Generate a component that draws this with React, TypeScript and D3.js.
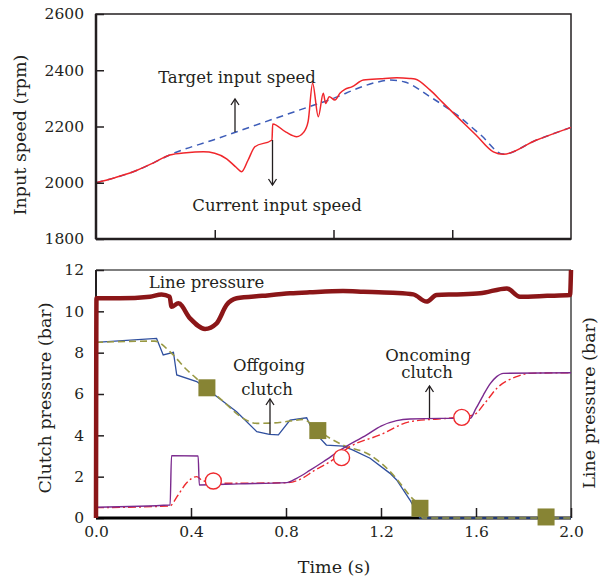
import React, { useRef, useEffect } from 'react';
import * as d3 from 'd3';

// ---- top panel: input speed (rpm) ----
const targetT = [0, 0.08, 0.157, 0.24, 0.311, 0.5, 0.7, 0.9, 1.0, 1.1, 1.18, 1.24, 1.3, 1.406, 1.52, 1.62, 1.715, 1.85, 2.0];
const targetSpeed = [2000, 2018, 2039, 2070, 2099, 2154, 2213, 2271, 2300, 2335, 2357, 2365, 2358, 2306, 2241, 2170, 2102, 2150, 2197];

const currentT = [0, 0.08, 0.157, 0.24, 0.311, 0.38, 0.452, 0.5, 0.55, 0.59, 0.613, 0.64, 0.669, 0.741, 0.744, 0.8, 0.845, 0.875, 0.893, 0.912, 0.936, 0.957, 0.967, 0.982, 1.006, 1.027, 1.048, 1.077, 1.126, 1.2, 1.266, 1.32, 1.343, 1.406, 1.46, 1.519, 1.6, 1.673, 1.715, 1.85, 2.0];
const currentSpeed = [2000, 2018, 2039, 2070, 2099, 2107, 2110, 2105, 2085, 2055, 2039, 2080, 2128, 2152, 2209, 2180, 2164, 2180, 2217, 2354, 2235, 2318, 2282, 2306, 2294, 2318, 2332, 2341, 2365, 2370, 2373, 2371, 2369, 2330, 2285, 2236, 2170, 2110, 2101, 2150, 2197];

const speedTicks = [1800, 2000, 2200, 2400, 2600];
const topTimeTicks = [0.5, 1.0, 1.5];

// ---- bottom panel: pressures (bar) ----
const lineT = [0, 0.002, 0.1, 0.227, 0.276, 0.31, 0.318, 0.347, 0.396, 0.459, 0.508, 0.55, 0.592, 0.7, 0.817, 0.9, 1.04, 1.126, 1.25, 1.336, 1.392, 1.434, 1.52, 1.617, 1.73, 1.785, 1.9, 1.996, 2.0];
const linePressure = [0, 10.63, 10.63, 10.71, 10.82, 10.71, 10.22, 10.39, 9.66, 9.15, 9.42, 10.31, 10.63, 10.75, 10.87, 10.92, 10.98, 10.95, 10.9, 10.82, 10.47, 10.79, 10.82, 10.87, 11.11, 10.71, 10.75, 10.79, 12];

const offActT = [0, 0.255, 0.283, 0.326, 0.34, 0.424, 0.5, 0.592, 0.677, 0.73, 0.768, 0.817, 0.887, 0.901, 0.94, 0.97, 1.04, 1.08, 1.154, 1.238, 1.266, 1.322, 1.364, 2.0];
const offActP = [8.5, 8.69, 7.89, 8.02, 6.92, 6.6, 5.95, 5.14, 4.18, 4.05, 4.02, 4.74, 4.85, 4.5, 3.9, 3.53, 3.48, 3.3, 2.89, 2.16, 1.84, 0.87, 0.0, 0.0];

const offTgtT = [0, 0.248, 0.311, 0.38, 0.438, 0.53, 0.62, 0.677, 0.75, 0.817, 0.873, 0.92, 0.985, 1.04, 1.154, 1.252, 1.322, 1.364, 1.375, 2.0];
const offTgtP = [8.5, 8.56, 8.05, 7.2, 6.6, 5.7, 4.82, 4.58, 4.6, 4.69, 4.77, 4.4, 3.86, 3.53, 3.05, 2.08, 1.06, 0.47, 0, 0];

const onActT = [0, 0.312, 0.318, 0.43, 0.435, 0.6, 0.803, 0.845, 0.9, 0.957, 1.04, 1.14, 1.2, 1.266, 1.322, 1.45, 1.575, 1.6, 1.631, 1.66, 1.687, 1.715, 2.0];
const onActP = [0.52, 0.63, 3.02, 3.0, 1.6, 1.65, 1.71, 1.92, 2.3, 2.72, 3.37, 4.02, 4.45, 4.71, 4.79, 4.82, 4.82, 5.3, 5.95, 6.5, 6.84, 7.0, 7.03];

const onTgtT = [0, 0.31, 0.345, 0.38, 0.424, 0.45, 0.564, 0.803, 0.859, 0.92, 0.985, 1.069, 1.196, 1.322, 1.505, 1.589, 1.64, 1.687, 1.771, 1.827, 2.0];
const onTgtP = [0.5, 0.58, 1.1, 1.68, 2.0, 1.8, 1.68, 1.71, 1.87, 2.3, 2.72, 3.45, 4.02, 4.66, 4.85, 4.98, 5.6, 6.27, 6.84, 7.0, 7.03];

const squareT = [0.467, 0.934, 1.364, 1.895];
const squareP = [6.3, 4.23, 0.47, 0.05];
const circleT = [0.494, 1.034, 1.54];
const circleP = [1.79, 2.92, 4.87];

const pressureTicks = [0, 2, 4, 6, 8, 10, 12];
const timeTicks = [0, 0.4, 0.8, 1.2, 1.6, 2.0];

const FONT = '"DejaVu Serif", serif';
const INK = '#231f20';

const zip = (a: number[], b: number[]) => a.map((v, i) => [v, b[i]] as [number, number]);

const App = () => {
  const svgRef = useRef<SVGSVGElement>(null);

  useEffect(() => {
    const svg = d3.select(svgRef.current);
    svg.selectAll('*').remove();

    const left = 96, right = 571;
    const x = d3.scaleLinear().domain([0, 2]).range([left, right]);
    const yTop = d3.scaleLinear().domain([1800, 2600]).range([239, 14]);
    const yBot = d3.scaleLinear().domain([0, 12]).range([518, 270]);

    const text = (g: any, s: string, tx: number, ty: number, size: number, rot = 0) =>
      g.append('text')
        .attr('transform', `translate(${tx},${ty}) rotate(${rot})`)
        .attr('text-anchor', 'middle')
        .attr('font-family', FONT)
        .attr('font-size', size)
        .attr('fill', INK)
        .text(s);

    const arrow = (x0: number, yFrom: number, yTip: number) => {
      const dir = yTip < yFrom ? 1 : -1;
      svg.append('line').attr('x1', x0).attr('x2', x0).attr('y1', yFrom).attr('y2', yTip)
        .attr('stroke', INK).attr('stroke-width', 1.3);
      svg.append('path')
        .attr('d', `M${x0 - 4},${yTip + dir * 6}L${x0},${yTip}L${x0 + 4},${yTip + dir * 6}`)
        .attr('fill', 'none').attr('stroke', INK).attr('stroke-width', 1.3);
    };

    // ================= top panel =================
    const top = svg.append('g');
    top.append('rect').attr('x', left).attr('y', 14).attr('width', right - left).attr('height', 225)
      .attr('fill', 'none').attr('stroke', INK).attr('stroke-width', 1.5);

    const lineTop = d3.line<[number, number]>().x(d => x(d[0])).y(d => yTop(d[1])).curve(d3.curveMonotoneX);

    top.append('path').datum(zip(targetT, targetSpeed)).attr('d', lineTop)
      .attr('fill', 'none').attr('stroke', '#3d5cb8').attr('stroke-width', 1.5).attr('stroke-dasharray', '7,5');
    top.append('path').datum(zip(currentT, currentSpeed)).attr('d', lineTop)
      .attr('fill', 'none').attr('stroke', '#f0262b').attr('stroke-width', 1.5);

    const yAxisTop = top.append('g').attr('transform', `translate(${left},0)`)
      .call(d3.axisLeft(yTop).tickValues(speedTicks).tickFormat(d3.format('d')).tickSize(-8).tickSizeOuter(0).tickPadding(12));
    yAxisTop.select('.domain').remove();
    yAxisTop.selectAll('line').attr('stroke', INK).attr('stroke-width', 1.5);
    yAxisTop.selectAll('text').attr('font-family', FONT).attr('font-size', 15.5).attr('fill', INK);

    const xAxisTop = top.append('g').attr('transform', `translate(0,239)`)
      .call(d3.axisBottom(x).tickValues(topTimeTicks).tickSize(-9).tickSizeOuter(0).tickFormat(() => ''));
    xAxisTop.select('.domain').remove();
    xAxisTop.selectAll('line').attr('stroke', INK).attr('stroke-width', 1.5);

    top.append('line').attr('x1', left).attr('x2', left).attr('y1', 14).attr('y2', 239).attr('stroke', INK).attr('stroke-width', 2.5);
    top.append('line').attr('x1', left).attr('x2', right).attr('y1', 239).attr('y2', 239).attr('stroke', INK).attr('stroke-width', 2.5);

    text(svg, 'Input speed (rpm)', 26, 135, 17.5, -90);
    text(svg, 'Target input speed', 237, 83, 16.5);
    text(svg, 'Current input speed', 277, 211, 16.5);
    arrow(235, 132, 99);
    arrow(272.5, 140, 185);

    // ================= bottom panel =================
    const bot = svg.append('g');
    bot.append('line').attr('x1', left).attr('x2', right).attr('y1', 270).attr('y2', 270).attr('stroke', '#555').attr('stroke-width', 1.3);
    bot.append('line').attr('x1', right).attr('x2', right).attr('y1', 270).attr('y2', 518).attr('stroke', '#444').attr('stroke-width', 1.5);

    const yAxisBot = bot.append('g').attr('transform', `translate(${left},0)`)
      .call(d3.axisLeft(yBot).tickValues(pressureTicks).tickSize(-8).tickSizeOuter(0).tickPadding(12));
    yAxisBot.select('.domain').remove();
    yAxisBot.selectAll('line').attr('stroke', INK).attr('stroke-width', 1.5);
    yAxisBot.selectAll('text').attr('font-family', FONT).attr('font-size', 15.5).attr('fill', INK);

    const xAxisBot = bot.append('g').attr('transform', `translate(0,518)`)
      .call(d3.axisBottom(x).tickValues(timeTicks).tickSize(-10).tickSizeOuter(0).tickPadding(8).tickFormat(d3.format('.1f')));
    xAxisBot.select('.domain').remove();
    xAxisBot.selectAll('line').attr('stroke', INK).attr('stroke-width', 1.5);
    xAxisBot.selectAll('text').attr('font-family', FONT).attr('font-size', 15.5).attr('fill', INK);

    bot.append('line').attr('x1', left).attr('x2', left).attr('y1', 270).attr('y2', 518).attr('stroke', INK).attr('stroke-width', 2);
    bot.append('line').attr('x1', left).attr('x2', right).attr('y1', 518).attr('y2', 518).attr('stroke', '#000').attr('stroke-width', 3);

    const lineBot = d3.line<[number, number]>().x(d => x(d[0])).y(d => yBot(d[1]));
    const smoothBot = d3.line<[number, number]>().x(d => x(d[0])).y(d => yBot(d[1])).curve(d3.curveMonotoneX);

    bot.append('path').datum(zip(offActT, offActP)).attr('d', lineBot)
      .attr('fill', 'none').attr('stroke', '#2f4f9e').attr('stroke-width', 1.3);
    bot.append('path').datum(zip(offTgtT, offTgtP)).attr('d', smoothBot)
      .attr('fill', 'none').attr('stroke', '#999944').attr('stroke-width', 1.6).attr('stroke-dasharray', '7,4');
    bot.append('path').datum(zip(onTgtT, onTgtP)).attr('d', smoothBot)
      .attr('fill', 'none').attr('stroke', '#ee2a2e').attr('stroke-width', 1.4).attr('stroke-dasharray', '8,3,2,3');
    bot.append('path').datum(zip(onActT, onActP)).attr('d', smoothBot)
      .attr('fill', 'none').attr('stroke', '#7b2a8e').attr('stroke-width', 1.4);
    bot.append('path').datum(zip(lineT, linePressure)).attr('d', smoothBot)
      .attr('fill', 'none').attr('stroke', '#8b1618').attr('stroke-width', 4.5).attr('stroke-linejoin', 'round');

    bot.append('g').selectAll('rect').data(zip(squareT, squareP)).join('rect')
      .attr('x', d => x(d[0]) - 8.5).attr('y', d => yBot(d[1]) - 8.5)
      .attr('width', 17).attr('height', 17).attr('fill', '#878434');

    bot.append('g').selectAll('circle').data(zip(circleT, circleP)).join('circle')
      .attr('cx', d => x(d[0])).attr('cy', d => yBot(d[1])).attr('r', 8)
      .attr('fill', '#fff').attr('stroke', '#ee2a2e').attr('stroke-width', 1.4);

    text(svg, 'Clutch pressure (bar)', 51, 398, 17.5, -90);
    text(svg, 'Line pressure (bar)', 595, 403, 17.5, -90);
    text(svg, 'Time (s)', 334, 573, 17.5);
    text(svg, 'Line pressure', 206.5, 288, 16.5);
    text(svg, 'Offgoing', 269, 371, 16.5);
    text(svg, 'clutch', 267, 395, 16.5);
    text(svg, 'Oncoming', 428, 361, 16.5);
    text(svg, 'clutch', 427, 378, 16.5);
    arrow(270, 434, 399);
    arrow(429.5, 418, 386);
  }, []);

  return (
    <svg ref={svgRef} width={603} height={582}
      style={{ position: 'absolute', left: 0, top: 0, background: '#fff' }} />
  );
};

export default App;
